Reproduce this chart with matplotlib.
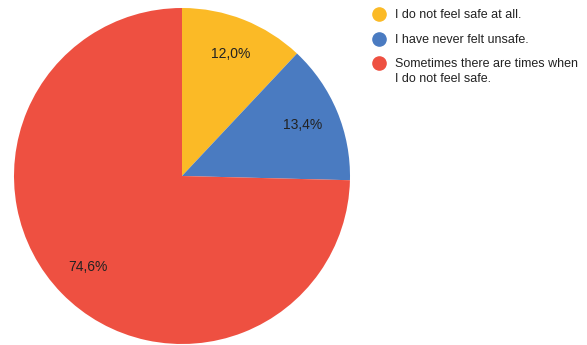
import matplotlib
matplotlib.use("Agg")
import matplotlib.pyplot as plt
from matplotlib.lines import Line2D

plt.rcParams['font.family'] = ['Liberation Sans', 'DejaVu Sans']

# answers and shares (%)
labels = ["I do not feel safe at all.",
          "I have never felt unsafe.",
          "Sometimes there are times when\nI do not feel safe."]
shares = [12.0, 13.4, 74.6]
colors = ["#FBBA26", "#4A7BC1", "#EE5041"]

W, H = 587, 345
fig = plt.figure(figsize=(W / 100, H / 100), dpi=100)

# pie centre (182,176) px, radius 168 px
r = 168
ax = fig.add_axes([(182 - r) / W, (H - 176 - r) / H, 2 * r / W, 2 * r / H])
wedges, texts, autotexts = ax.pie(
    shares, colors=colors, startangle=90, counterclock=False, radius=1,
    autopct=lambda p: "{:.1f}%".format(p).replace(".", ","),
    pctdistance=0.78, textprops=dict(fontsize=10, color="#222222"))
ax.set_xlim(-1, 1)
ax.set_ylim(-1, 1)
ax.set_aspect("equal")
ax.axis("off")

# legend drawn by hand so the marker sits on the first text line
legend_y = [14, 39, 63]   # px from top
for lab, c, y in zip(labels, colors, legend_y):
    fig.add_artist(Line2D([379 / W], [1 - y / H], marker="o", markersize=9.5,
                          markerfacecolor=c, markeredgecolor=c,
                          transform=fig.transFigure))
    fig.text(395 / W, 1 - (y - 5) / H, lab, fontsize=9, color="#222222",
             ha="left", va="top", linespacing=1.3)

fig.savefig("out.png", dpi=100)
